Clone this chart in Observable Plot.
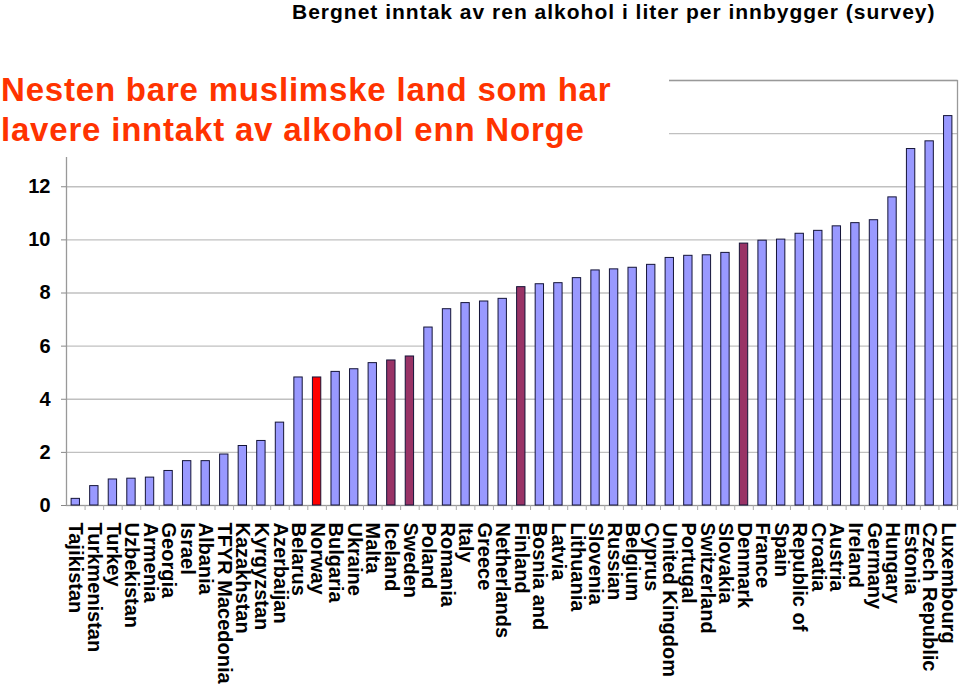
<!DOCTYPE html>
<html>
<head>
<meta charset="utf-8">
<script src="https://cdn.jsdelivr.net/npm/d3@7"></script>
<script src="https://cdn.jsdelivr.net/npm/@observablehq/plot@0.6"></script>
<style>
  html, body { margin: 0; padding: 0; background: #fff; }
  #wrap { position: relative; width: 960px; height: 688px; overflow: hidden; font-family: "Liberation Sans", Arial, sans-serif; }
  #wrap svg { position: absolute; left: 0; top: 0; }
  #mask { position: absolute; left: 0; top: 0; width: 669px; height: 157px; background: #fff; }
  #title { position: absolute; left: 292px; top: 0px; font-size: 21px; line-height: normal; letter-spacing: 1px; font-weight: bold; color: #000; white-space: nowrap; }
  #subtitle { position: absolute; left: 1px; top: 70px; font-size: 33px; line-height: 40px; letter-spacing: 0.8px; font-weight: bold; color: #ff3300; white-space: nowrap; }
</style>
</head>
<body>
<div id="wrap">
  <div id="mask"></div>
  <div id="title">Bergnet inntak av ren alkohol i liter per innbygger (survey)</div>
  <div id="subtitle">Nesten bare muslimske land som har<br>lavere inntakt av alkohol enn Norge</div>
</div>
<script>
const countries = ["Tajikistan","Turkmenistan","Turkey","Uzbekistan","Armenia","Georgia","Israel","Albania","TFYR Macedonia","Kazakhstan","Kyrgyzstan","Azerbaijan","Belarus","Norway","Bulgaria","Ukraine","Malta","Iceland","Sweden","Poland","Romania","Italy","Greece","Netherlands","Finland","Bosnia and","Latvia","Lithuania","Slovenia","Russian","Belgium","Cyprus","United Kingdom","Portugal","Switzerland","Slovakia","Denmark","France","Spain","Republic of","Croatia","Austria","Ireland","Germany","Hungary","Estonia","Czech Republic","Luxembourg"];
const values = [0.25,0.73,0.98,1.01,1.05,1.30,1.67,1.67,1.92,2.24,2.43,3.12,4.82,4.82,5.03,5.13,5.36,5.46,5.61,6.70,7.39,7.62,7.68,7.78,8.22,8.33,8.37,8.56,8.85,8.89,8.95,9.06,9.32,9.40,9.42,9.51,9.86,9.97,10.01,10.23,10.34,10.51,10.63,10.74,11.60,13.42,13.71,14.66];
const highlightNorway = ["Norway"];
const highlightNordic = ["Iceland","Sweden","Finland","Denmark"];
const yTicks = [0,2,4,6,8,10,12];
const gridValues = [2,4,6,8,10,12,14,16];

const data = countries.map((c, i) => ({
  country: c,
  value: values[i],
  group: highlightNorway.includes(c) ? "norway" : highlightNordic.includes(c) ? "nordic" : "other"
}));

const W = 960, H = 688, mL = 66, mR = 3, mT = 80, mB = 183;
const step = (W - mL - mR) / countries.length;

const plot = Plot.plot({
  width: W,
  height: H,
  marginLeft: mL,
  marginRight: mR,
  marginTop: mT,
  marginBottom: mB,
  style: { fontFamily: "'Liberation Sans', Arial, sans-serif", color: "#000", background: "transparent" },
  x: { domain: countries, paddingInner: 0.55, paddingOuter: 0.275, round: false, axis: null, label: null },
  y: { domain: [0, 16], axis: null, label: null },
  color: { domain: ["other", "norway", "nordic"], range: ["#9999ff", "#ff0000", "#993366"] },
  marks: [
    Plot.ruleY(gridValues, { stroke: "#c0c0c0", strokeWidth: 1.3 }),
    Plot.frame({ stroke: "#999", strokeWidth: 1.3 }),
    Plot.barY(data, { x: "country", y: "value", fill: "group", stroke: "#141438", strokeWidth: 1 }),
    Plot.axisY({ ticks: yTicks, tickSize: 5, tickPadding: 11, stroke: "#888", fontSize: 20, fontWeight: "bold", tickFormat: d => d, label: null }),
    Plot.axisX({ ticks: countries, text: null, tickSize: 5, stroke: "#aaa", dx: step / 2, label: null }),
    Plot.axisX({ ticks: countries, tickSize: 0, tickPadding: 17, tickRotate: 90, fontSize: 20, fontWeight: "bold", label: null })
  ]
});

document.getElementById("wrap").insertBefore(plot, document.getElementById("mask"));
</script>
</body>
</html>
